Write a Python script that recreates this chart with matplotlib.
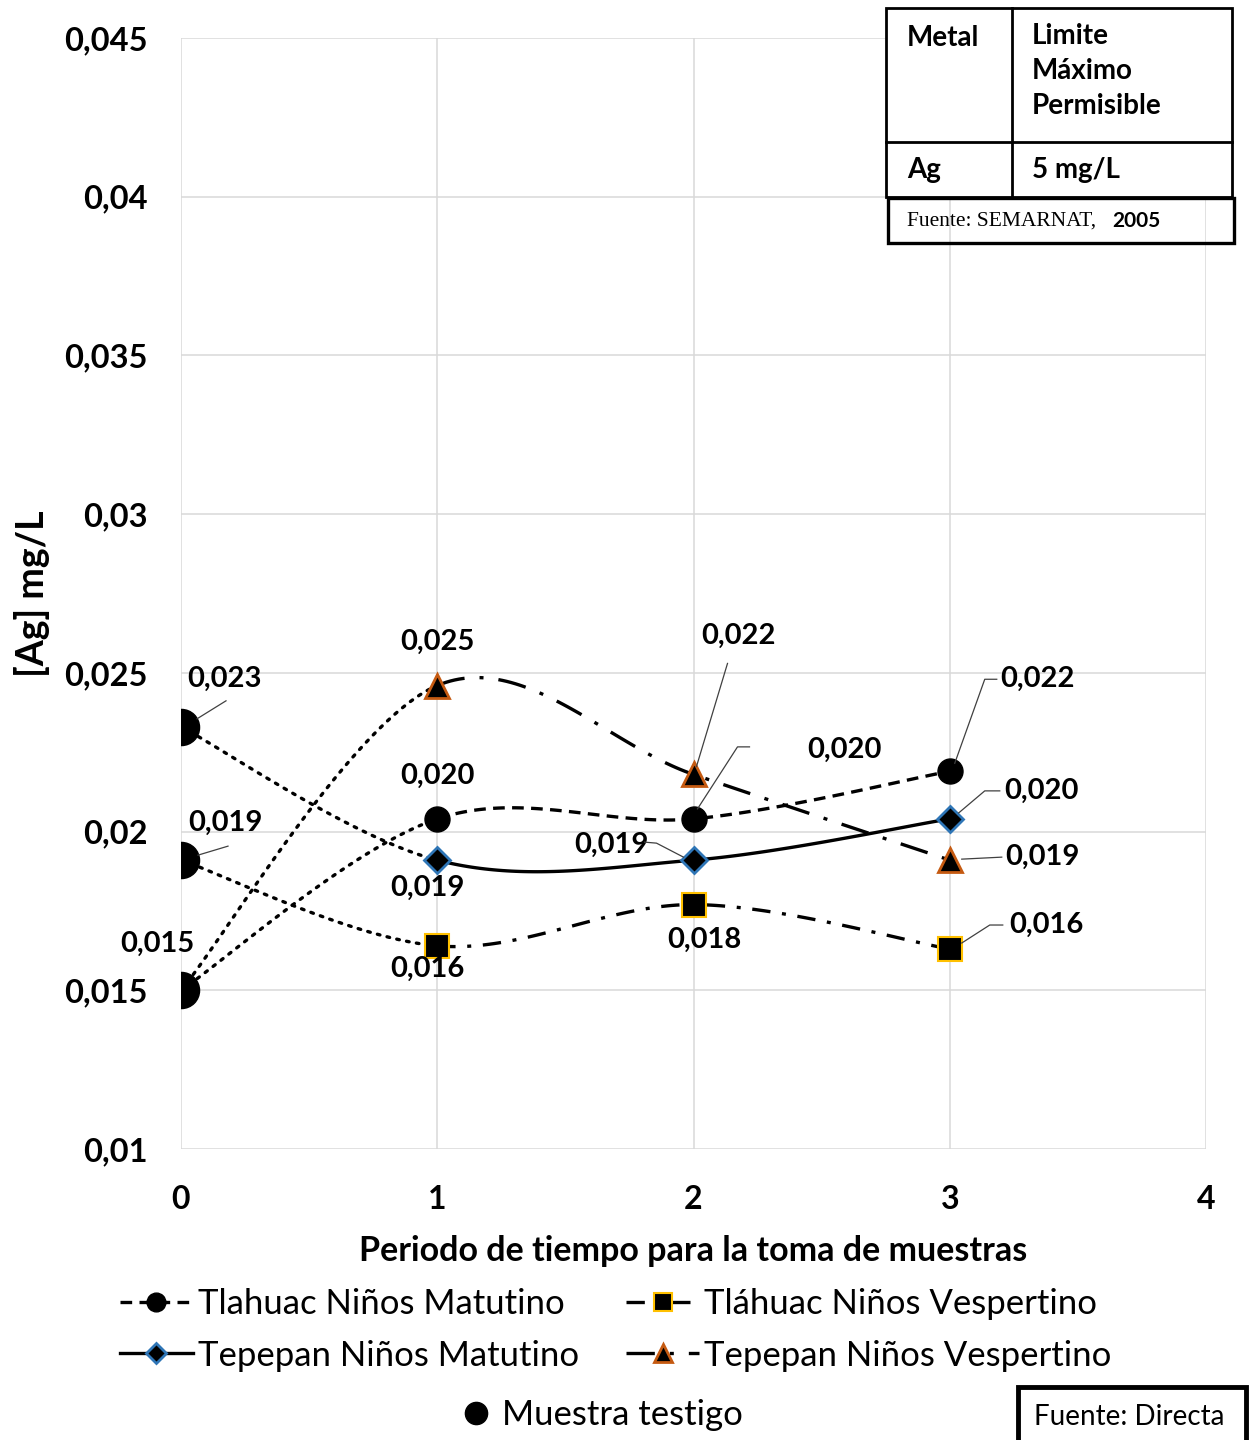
import numpy as np
import matplotlib
matplotlib.use("Agg")
import matplotlib.pyplot as plt
from matplotlib.lines import Line2D
from matplotlib.patches import Rectangle

# sampling periods and measured silver concentrations (mg/L)
periodos = [0, 1, 2, 3]
tlahuac_mat = [0.0150, 0.0204, 0.0204, 0.0219]
tlahuac_ves = [0.0191, 0.0164, 0.0177, 0.0163]
tepepan_mat = [0.0233, 0.0191, 0.0191, 0.0204]
tepepan_ves = [0.0150, 0.0246, 0.0218, 0.0191]
testigo = [0.0233, 0.0191, 0.0150]

nombres = ["Tlahuac Niños Matutino", "Tláhuac Niños Vespertino",
           "Tepepan Niños Matutino", "Tepepan Niños Vespertino"]
yticks = [0.01, 0.015, 0.02, 0.025, 0.03, 0.035, 0.04, 0.045]
xticks = [0, 1, 2, 3, 4]

BOLD = dict(family=["Lato", "DejaVu Sans"], fontweight="bold")
REG = ["Lato", "DejaVu Sans"]


def fmt(v):
    return f"{v:.3f}".replace(".", ",")


def smooth(xs, ys, n=60):
    # Catmull-Rom segments, like the "smoothed line" option in spreadsheets
    P = np.column_stack([xs, ys]).astype(float)
    P = np.vstack([P[0], P, P[-1]])
    t = np.linspace(0, 1, n)[:, None]
    segs = []
    for i in range(1, len(P) - 2):
        p0, p1, p2, p3 = P[i - 1], P[i], P[i + 1], P[i + 2]
        seg = 0.5 * (2 * p1 + (-p0 + p2) * t + (2 * p0 - 5 * p1 + 4 * p2 - p3) * t ** 2
                     + (-p0 + 3 * p1 - 3 * p2 + p3) * t ** 3)
        segs.append(seg)
    return segs


fig = plt.figure(figsize=(12.49, 14.4), dpi=100)
ax = fig.add_axes([181 / 1249, 1 - 1149 / 1440, 1025 / 1249, 1111 / 1440])
ax.set_xlim(0, 4)
ax.set_ylim(0.01, 0.045)
ax.set_xticks(xticks)
ax.set_yticks(yticks)
ax.set_xticklabels([str(v) for v in xticks], **BOLD, fontsize=23)
ax.set_yticklabels([f"{v:g}".replace(".", ",") for v in yticks], **BOLD, fontsize=23.5)
ax.tick_params(length=0)
ax.tick_params(axis="y", pad=24)
ax.tick_params(axis="x", pad=26)
ax.grid(True, color="#d9d9d9", lw=1.1)
for s in ax.spines.values():
    s.set_visible(False)
ax.set_xlabel("Periodo de tiempo para la toma de muestras", **BOLD, fontsize=24.5)
ax.set_ylabel("[Ag] mg/L", **BOLD, fontsize=27)
ax.xaxis.set_label_coords(0.5, -0.077)
ax.yaxis.set_label_coords(-0.128, 0.5)

estilos = [
    dict(dashes=(3.5, 2.2), marker="o", ms=18, mfc="k", mec="k", mew=1),
    dict(dashes=(5.5, 3.5, 1.2, 3.5), marker="s", ms=17, mfc="k", mec="#ffc000", mew=1.5),
    dict(dashes=(), marker="D", ms=13, mfc="k", mec="#2e75b6", mew=2),
    dict(dashes=(8.5, 4.5, 1.2, 4.5), marker="^", ms=17, mfc="k", mec="#c55a11", mew=2),
]
series = [tlahuac_mat, tlahuac_ves, tepepan_mat, tepepan_ves]

for ys, st in zip(series, estilos):
    segs = smooth(periodos, ys)
    # first segment (from the control sample) is dotted
    ax.plot(segs[0][:, 0], segs[0][:, 1], color="k", lw=2.4, dashes=(0.8, 2.2),
            dash_capstyle="round", zorder=3)
    rest = np.vstack(segs[1:])
    ls = "-" if not st["dashes"] else (0, st["dashes"])
    ax.plot(rest[:, 0], rest[:, 1], color="k", lw=2.4, linestyle=ls, zorder=3)
    ax.plot(periodos[1:], ys[1:], ls="none", marker=st["marker"], ms=st["ms"],
            mfc=st["mfc"], mec=st["mec"], mew=st["mew"], zorder=4)

ax.plot([0] * len(testigo), testigo, ls="none", marker="o", ms=26, color="k", zorder=5)


def etiqueta(x, y, dx, dy, leader=None):
    # dx, dy: offset of the text centre in pixels; leader: offsets of the leader line vertices
    ax.annotate(fmt(y), (x, y), xytext=(dx, dy), textcoords="offset pixels",
                ha="center", va="center", fontsize=21, zorder=6, **BOLD)
    if leader:
        p = ax.transData.transform((x, y))
        pts = np.array([ax.transData.inverted().transform(p + np.array(o)) for o in leader])
        ax.plot(pts[:, 0], pts[:, 1], color="#404040", lw=0.9, zorder=6)


# control sample labels
etiqueta(0, testigo[0], 43, 48, [(16, 8), (45, 26)])
etiqueta(0, testigo[1], 44, 37, [(17, 5), (47, 14)])
etiqueta(0, testigo[2], -24, 46, [(-13, 14), (-23, 24)])
# period 1
etiqueta(1, tepepan_ves[1], 0, 44)
etiqueta(1, tlahuac_mat[1], 0, 43)
etiqueta(1, tepepan_mat[1], -10, -28)
etiqueta(1, tlahuac_ves[1], -10, -23)
# period 2
etiqueta(2, tepepan_ves[2], 45, 139, [(3, 8), (34, 111)])
etiqueta(2, tlahuac_mat[2], 151, 69, [(4, 10), (44, 72), (56, 72)])
etiqueta(2, tepepan_mat[2], -82, 15, [(-10, 3), (-37, 17), (-49, 18)])
etiqueta(2, tlahuac_ves[2], 11, -35)
# period 3
etiqueta(3, tlahuac_mat[3], 88, 92, [(5, 8), (35, 92), (47, 92)])
etiqueta(3, tepepan_mat[3], 92, 28, [(9, 6), (35, 28), (50, 28)])
etiqueta(3, tepepan_ves[3], 93, 3, [(12, 1), (52, 3)])
etiqueta(3, tlahuac_ves[3], 97, 24, [(12, 6), (40, 24), (53, 24)])

# legend: two rows, filled row by row
handles = []
for st in estilos:
    ls = "-" if not st["dashes"] else (0, st["dashes"])
    handles.append(Line2D([], [], color="k", lw=2.4, linestyle=ls, marker=st["marker"],
                          ms=st["ms"] * 0.75, mfc=st["mfc"], mec=st["mec"], mew=st["mew"]))
orden = [0, 2, 1, 3]
fig.legend([handles[i] for i in orden], [nombres[i] for i in orden], ncol=2, loc="center",
           bbox_to_anchor=(0.493, 0.0764), frameon=False, handlelength=2.1,
           handletextpad=0.15, columnspacing=1.35, labelspacing=0.55,
           prop=dict(family=REG, size=25))
fig.legend([Line2D([], [], ls="none", marker="o", ms=16, color="k")], ["Muestra testigo"],
           loc="center", bbox_to_anchor=(0.482, 0.0174), frameon=False, handlelength=0.8,
           handletextpad=0.35, prop=dict(family=REG, size=25))

# overlay in pixel coordinates for the reference table and source boxes
ov = fig.add_axes([0, 0, 1, 1], zorder=10)
ov.set_xlim(0, 1249)
ov.set_ylim(1440, 0)
ov.axis("off")
ov.add_patch(Rectangle((886, 8), 346, 189, fc="white", ec="k", lw=2))
ov.plot([1012, 1012], [8, 197], color="k", lw=2)
ov.plot([886, 1232], [142, 142], color="k", lw=2)
ov.add_patch(Rectangle((888, 198), 346, 45, fc="none", ec="k", lw=2.4))
tb = dict(family=["Lato", "DejaVu Sans"], fontweight="bold", fontsize=20, va="center")
ov.text(907, 38, "Metal", **tb)
ov.text(1032, 36, "Limite", **tb)
ov.text(1032, 71, "Máximo", **tb)
ov.text(1032, 106, "Permisible", **tb)
ov.text(907, 170, "Ag", **tb)
ov.text(1032, 170, "5 mg/L", **tb)
ov.text(907, 221, "Fuente: SEMARNAT,", family=["Liberation Serif", "DejaVu Serif"],
        fontsize=15.5, va="center")
ov.text(1112, 221, "2005", family=["Lato", "DejaVu Sans"], fontweight="bold",
        fontsize=15, va="center")
ov.add_patch(Rectangle((1018, 1387), 228, 70, fc="white", ec="k", lw=3.5))
ov.text(1129, 1417, "Fuente: Directa", family=REG, fontsize=20,
        ha="center", va="center")

fig.savefig("out.png", dpi=100)
